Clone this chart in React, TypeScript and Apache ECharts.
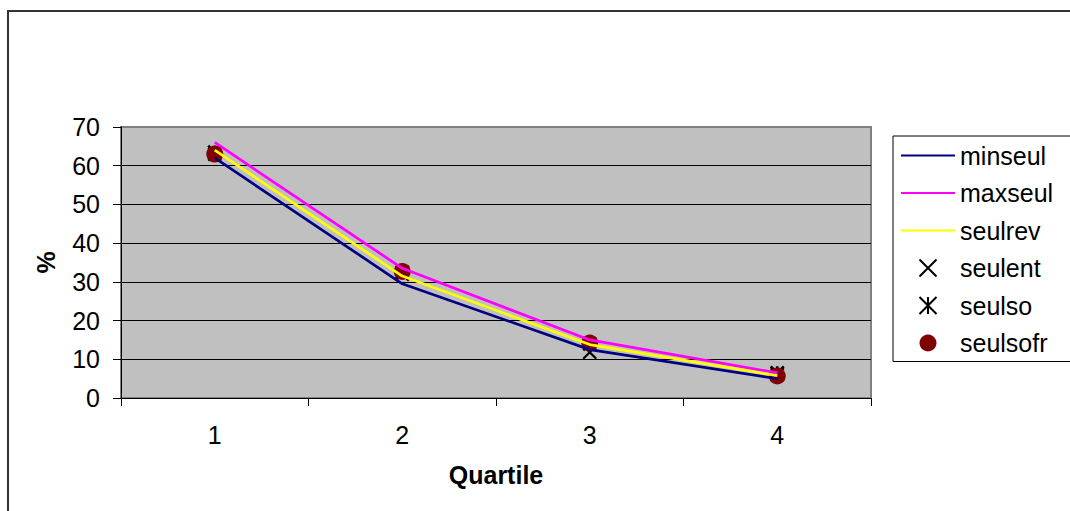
import React, { useEffect, useRef } from "react";
import * as echarts from "echarts";

const categories = ["1", "2", "3", "4"];
const minseul = [62, 29.5, 12.5, 5];
const maxseul = [66, 33.5, 15, 6.5];
const seulrev = [64, 31.5, 13.8, 5.8];
const seulent = [63, 32, 11.8, 6];
const seulso = [63.5, 32.5, 14, 6.5];
const seulsofr = [63, 32.7, 14.2, 5.7];

const FONT = "'Liberation Sans', Arial, sans-serif";
const FS = 25;
const X_PATH = "path://M0,0L10,10M10,0L0,10";
const AST_PATH = "path://M0,0L10,10M10,0L0,10M5,0L5,10";

export default function App() {
  const ref = useRef<HTMLDivElement>(null);
  useEffect(() => {
    if (!ref.current) return;
    const chart = echarts.init(ref.current, null, { renderer: "svg" });
    const hideSym = { opacity: 0 };
    chart.setOption({
      animation: false,
      backgroundColor: "#ffffff",
      textStyle: { fontFamily: FONT },
      graphic: [
        {
          type: "rect",
          shape: { x: 8, y: 11, width: 1200, height: 700 },
          style: { fill: "none", stroke: "#333333", lineWidth: 2 },
          silent: true,
          z: -1,
        },
      ],
      grid: {
        left: 121,
        top: 127,
        right: 199,
        bottom: 113,
        show: true,
        backgroundColor: "#c0c0c0",
        borderColor: "#808080",
        borderWidth: 2,
      },
      legend: {
        orient: "vertical",
        left: 893,
        top: 136,
        padding: [7, 18, 6, 7],
        itemGap: 12.5,
        itemWidth: 54,
        itemHeight: 17,
        backgroundColor: "#ffffff",
        borderColor: "#000000",
        borderWidth: 1,
        selectedMode: false,
        textStyle: { fontSize: FS, color: "#000", fontFamily: FONT, lineHeight: 25 },
        data: [
          { name: "minseul", itemStyle: hideSym },
          { name: "maxseul", itemStyle: hideSym },
          { name: "seulrev", itemStyle: hideSym },
          { name: "seulent" },
          { name: "seulso" },
          { name: "seulsofr" },
        ],
      },
      xAxis: {
        type: "category",
        data: categories,
        boundaryGap: true,
        axisLine: { lineStyle: { color: "#000", width: 1 } },
        axisTick: { show: true, length: 8, alignWithLabel: false, lineStyle: { color: "#000" } },
        axisLabel: { fontSize: FS, color: "#000", margin: 24, fontFamily: FONT },
        name: "Quartile",
        nameLocation: "middle",
        nameGap: 64,
        nameTextStyle: { fontSize: FS, fontWeight: "bold", color: "#000", fontFamily: FONT },
        splitLine: { show: false },
      },
      yAxis: {
        type: "value",
        min: 0,
        max: 70,
        interval: 10,
        axisLine: { show: true, lineStyle: { color: "#000", width: 1 } },
        axisTick: { show: true, length: 8, lineStyle: { color: "#000" } },
        axisLabel: { fontSize: FS, color: "#000", margin: 21, fontFamily: FONT },
        splitLine: { show: true, showMaxLine: false, showMinLine: false, lineStyle: { color: "#000", width: 1 } },
        name: "%",
        nameLocation: "middle",
        nameGap: 63,
        nameRotate: 90,
        nameTextStyle: { fontSize: FS, fontWeight: "bold", color: "#000", fontFamily: FONT },
      },
      series: [
        {
          name: "minseul",
          type: "line",
          data: minseul,
          symbol: "none",
          lineStyle: { color: "#000080", width: 2.7 },
          itemStyle: { color: "#000080" },
          emphasis: { disabled: true },
        },
        {
          name: "maxseul",
          type: "line",
          data: maxseul,
          symbol: "none",
          lineStyle: { color: "#ff00ff", width: 2.7 },
          itemStyle: { color: "#ff00ff" },
          emphasis: { disabled: true },
        },
        {
          name: "seulrev",
          type: "line",
          data: seulrev,
          symbol: "none",
          lineStyle: { color: "#ffff00", width: 2.7 },
          itemStyle: { color: "#ffff00" },
          emphasis: { disabled: true },
        },
        {
          name: "seulent",
          type: "scatter",
          data: seulent,
          symbol: X_PATH,
          symbolSize: 13,
          itemStyle: { color: "none", borderColor: "#000", borderWidth: 2.2, opacity: 1 },
          emphasis: { disabled: true },
        },
        {
          name: "seulso",
          type: "scatter",
          data: seulso,
          symbol: AST_PATH,
          symbolSize: 13,
          itemStyle: { color: "none", borderColor: "#000", borderWidth: 2.6, opacity: 1 },
          emphasis: { disabled: true },
        },
        {
          name: "seulsofr",
          type: "scatter",
          data: seulsofr,
          symbol: "circle",
          symbolSize: 17,
          itemStyle: { color: "#800000", borderWidth: 0, opacity: 1 },
          emphasis: { disabled: true },
        },
      ],
    });
    return () => chart.dispose();
  }, []);
  return (
    <div
      ref={ref}
      style={{ position: "absolute", left: 0, top: 0, width: 1070, height: 511 }}
    />
  );
}
